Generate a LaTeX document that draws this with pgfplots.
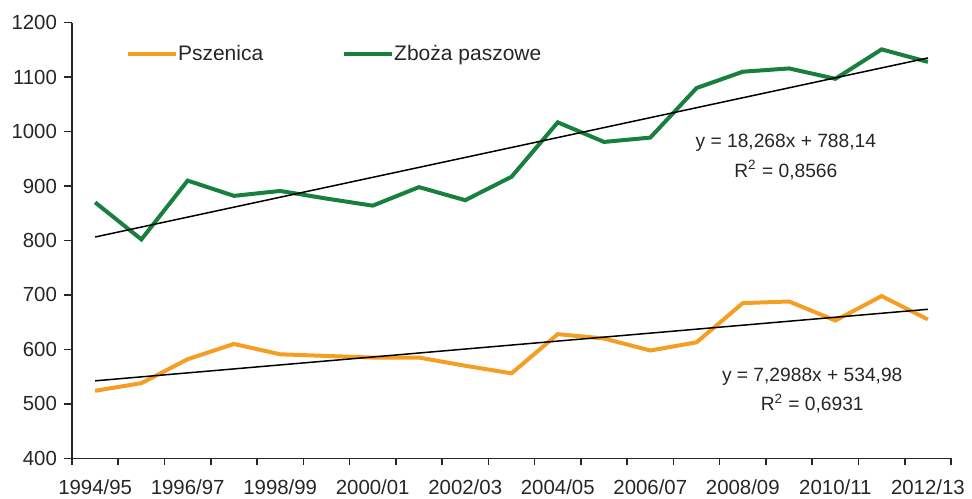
\documentclass[border=0pt]{standalone}
\usepackage{pgfplots}
\pgfplotsset{compat=1.18}
\usepackage{fontspec}
\setmainfont{Liberation Sans}
\definecolor{wheat}{RGB}{245,158,36}
\definecolor{feed}{RGB}{22,128,60}

\begin{document}
\begin{tikzpicture}
\begin{axis}[
    scale only axis,
    width=439.5pt, height=217.8pt,
    xmin=0.5, xmax=19.5,
    ymin=400, ymax=1200,
    axis x line*=bottom, axis y line*=left,
    axis line style={line width=0.8pt, black!85},
    xtick={1,3,...,19},
    xticklabels={1994/95,1996/97,1998/99,2000/01,2002/03,2004/05,2006/07,2008/09,2010/11,2012/13},
    minor xtick={0.5,1.5,...,19.5},
    major x tick style={draw=none},
    minor x tick style={line width=0.8pt, black!85},
    minor tick length=3.5pt,
    ytick={400,500,...,1200},
    major tick length=4pt,
    y tick style={line width=0.8pt, black!85},
    tick align=outside,
    tick label style={font=\fontsize{10.2}{12}\selectfont, text=black!85},
    xticklabel style={yshift=-3.2pt},
    /pgf/number format/assume math mode=true,
    /pgf/number format/1000 sep={},
    legend style={draw=none, fill=none, at={(0.061,0.927)}, anchor=west,
        inner xsep=0pt,
        nodes={inner xsep=0pt},
        font=\fontsize{10.5}{12}\selectfont, text=black!85,
        /tikz/every even column/.append style={column sep=39.5pt}},
    legend columns=2,
    legend image code/.code={\draw[#1] (0pt,0pt) -- (24pt,0pt);},
]
\addplot[wheat, line width=2pt] coordinates {
    (1,524) (2,538) (3,582) (4,610) (5,591) (6,588) (7,585) (8,585) (9,570) (10,556)
    (11,628) (12,620) (13,598) (14,613) (15,685) (16,688) (17,653) (18,698) (19,655)
};
\addlegendentry{Pszenica}
\addplot[feed, line width=2pt] coordinates {
    (1,870) (2,802) (3,910) (4,882) (5,891) (6,877) (7,864) (8,898) (9,874) (10,917)
    (11,1017) (12,981) (13,989) (14,1080) (15,1110) (16,1116) (17,1097) (18,1151) (19,1128)
};
\addlegendentry{Zboża paszowe}
\addplot[black, line width=0.75pt, forget plot] coordinates {(1,542.28) (19,673.66)};
\addplot[black, line width=0.75pt, forget plot] coordinates {(1,806.41) (19,1135.23)};
\node[font=\fontsize{9.6}{11}\selectfont, text=black!85] at (axis cs:15.93,979) {y = 18,268x + 788,14};
\node[font=\fontsize{9.6}{11}\selectfont, text=black!85] at (axis cs:15.93,929.5) {R\textsuperscript{2} = 0,8566};
\node[font=\fontsize{9.6}{11}\selectfont, text=black!85] at (axis cs:16.5,550) {y = 7,2988x + 534,98};
\node[font=\fontsize{9.6}{11}\selectfont, text=black!85] at (axis cs:16.5,500) {R\textsuperscript{2} = 0,6931};
\end{axis}
\pgfresetboundingbox
\useasboundingbox ([xshift=-36pt,yshift=-19.85pt]current axis.south west) rectangle ([xshift=10.5pt,yshift=11.35pt]current axis.north east);
\end{tikzpicture}
\end{document}
